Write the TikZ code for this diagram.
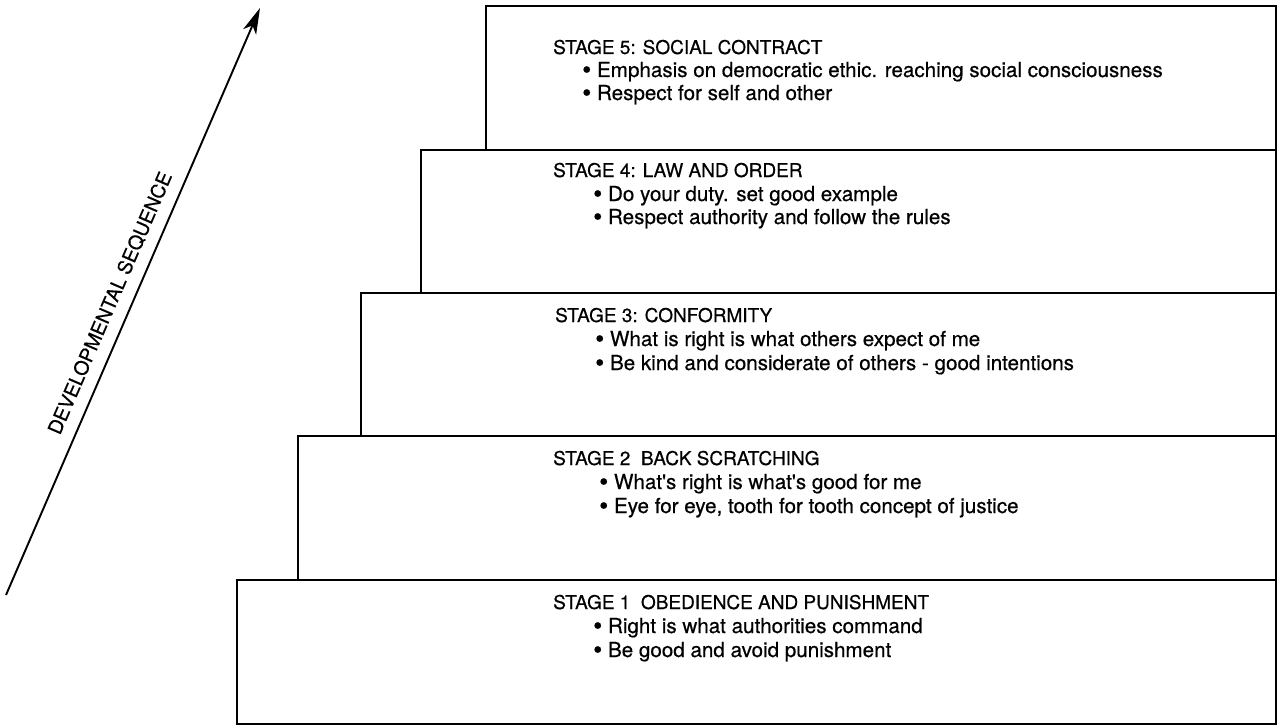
\documentclass[tikz,border=0pt]{standalone}
\usepackage{fontspec}
\setmainfont{TeX Gyre Heros}
\newfontfamily\scanfont[FakeBold=0.5]{TeX Gyre Heros}
\usetikzlibrary{arrows.meta}
\newcommand{\bul}{\raisebox{-1.5pt}{\fontsize{26}{26}\selectfont\textbullet}\ }
\begin{document}
\begin{tikzpicture}[x=1pt,y=-1pt,
  stagebox/.style={draw=black, line width=1.9pt, rectangle, anchor=north west, inner sep=0pt, outer sep=0pt},
  head/.style={anchor=base west, inner sep=0pt, font=\scanfont\fontsize{19}{19}\selectfont},
  item/.style={anchor=base west, inner sep=0pt, font=\scanfont\fontsize{20.6}{20.6}\selectfont},
]
\useasboundingbox (0,0) rectangle (1277,725);

% stair boxes
\node[stagebox, minimum width=1039pt, minimum height=144pt] (s1) at (237,580) {};
\node[stagebox, minimum width=978pt, minimum height=144pt] (s2) at (298,436) {};
\node[stagebox, minimum width=915pt, minimum height=143pt] (s3) at (361,293) {};
\node[stagebox, minimum width=855pt, minimum height=143pt] (s4) at (421,150) {};
\node[stagebox, minimum width=790pt, minimum height=144pt] (s5) at (486,6) {};

% stage 5
\node[head] (h5) at (553,54) {STAGE 5: SOCIAL CONTRACT};
\node[item] (a5) at (582,77) {\bul Emphasis on democratic ethic. reaching social consciousness};
\node[item] (b5) at (582,100) {\bul Respect for self and other};

% stage 4
\node[head] (h4) at (553,177) {STAGE 4: LAW AND ORDER};
\node[item] (a4) at (593,201) {\bul Do your duty. set good example};
\node[item] (b4) at (593,224) {\bul Respect authority and follow the rules};

% stage 3
\node[head] (h3) at (555,322) {STAGE 3: CONFORMITY};
\node[item] (a3) at (595,346) {\bul What is right is what others expect of me};
\node[item] (b3) at (595,370) {\bul Be kind and considerate of others - good intentions};

% stage 2
\node[head] (h2) at (553,465) {STAGE 2 \ BACK SCRATCHING};
\node[item] (a2) at (599,489) {\bul What's right is what's good for me};
\node[item] (b2) at (599,513) {\bul Eye for eye, tooth for tooth concept of justice};

% stage 1
\node[head] (h1) at (553,609) {STAGE 1 \ OBEDIENCE AND PUNISHMENT};
\node[item] (a1) at (593,633) {\bul Right is what authorities command};
\node[item] (b1) at (593,657) {\bul Be good and avoid punishment};

% developmental arrow
\coordinate (tail) at (6,595);
\coordinate (tip) at (260,8);
\draw[line width=1.9pt, -{Stealth[length=26pt, width=14pt, inset=7pt]}] (tail) -- (tip);
\node[rotate=66.6, inner sep=0pt, font=\scanfont\fontsize{19.5}{19.5}\selectfont] (seq) at (110,303) {DEVELOPMENTAL SEQUENCE};
\end{tikzpicture}
\end{document}
